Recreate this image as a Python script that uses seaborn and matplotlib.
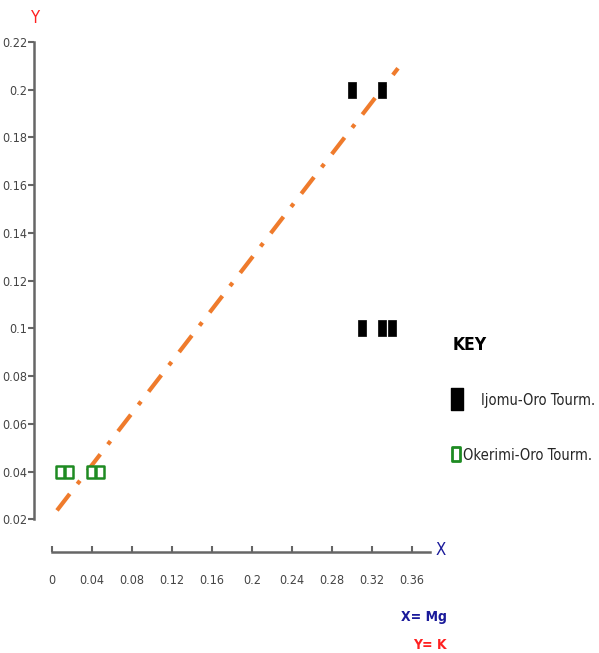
import matplotlib
matplotlib.use("Agg")
import matplotlib.pyplot as plt
import seaborn as sns
import pandas as pd
from matplotlib.lines import Line2D
from matplotlib.path import Path

sns.set_theme(style="white")
plt.rcParams['font.family'] = ['DejaVu Sans']
plt.rcParams['font.stretch'] = 'condensed'

# Data
ijomu_mg = [0.30, 0.33, 0.31, 0.33, 0.34]
ijomu_k = [0.20, 0.20, 0.10, 0.10, 0.10]
okerimi_mg = [0.008, 0.017, 0.039, 0.048]
okerimi_k = [0.04, 0.04, 0.04, 0.04]
trend_mg = [0.005, 0.346]
trend_k = [0.0238, 0.209]
xticks = [0, 0.04, 0.08, 0.12, 0.16, 0.2, 0.24, 0.28, 0.32, 0.36]
xtick_labels = ['0', '0.04', '0.08', '0.12', '0.16', '0.2', '0.24', '0.28', '0.32', '0.36']
yticks = [0.02, 0.04, 0.06, 0.08, 0.1, 0.12, 0.14, 0.16, 0.18, 0.2, 0.22]
ytick_labels = ['0.02', '0.04', '0.06', '0.08', '0.1', '0.12', '0.14', '0.16', '0.18', '0.2', '0.22']
series_labels = ['Ijomu-Oro Tourm.', 'Okerimi-Oro Tourm.']

W, H = 599, 653
fig = plt.figure(figsize=(W / 100, H / 100), dpi=100)
ax_l, ax_r, ax_t, ax_b = 34, 430, 42, 552
ax = fig.add_axes([ax_l / W, 1 - ax_b / H, (ax_r - ax_l) / W, (ax_b - ax_t) / H])
ax.set_xlim(-0.018, 0.378)
ax.set_ylim(0.02 - (552 - 519.5) * 0.2 / 477, 0.22)


def box(a):
    return Path([(-a, -1), (a, -1), (a, 1), (-a, 1), (-a, -1)],
                [Path.MOVETO, Path.LINETO, Path.LINETO, Path.LINETO, Path.CLOSEPOLY])


rect = box(0.52)
sq = box(0.68)

trend = pd.DataFrame({'Mg': trend_mg, 'K': trend_k})
sns.lineplot(data=trend, x='Mg', y='K', ax=ax, color='#EF7B2C', lw=3.0,
             linestyle=(0, (5, 3, 1, 3)), zorder=2)

ij = pd.DataFrame({'Mg': ijomu_mg, 'K': ijomu_k})
ok = pd.DataFrame({'Mg': okerimi_mg, 'K': okerimi_k})
sns.scatterplot(data=ij, x='Mg', y='K', ax=ax, marker=rect, s=130, color='black',
                edgecolor='black', linewidth=0.5, zorder=3)
sns.scatterplot(data=ok, x='Mg', y='K', ax=ax, marker=sq, s=80, facecolor='white',
                edgecolor='#1E8B22', linewidth=1.8, zorder=3)

for s in ['top', 'right']:
    ax.spines[s].set_visible(False)
for s in ['left', 'bottom']:
    ax.spines[s].set_color('#666666')
    ax.spines[s].set_linewidth(1.8)
ax.spines['left'].set_bounds(0.02, 0.22)
ax.spines['bottom'].set_bounds(0, 0.378)

ax.set_xticks(xticks)
ax.set_xticklabels(xtick_labels)
ax.set_yticks(yticks)
ax.set_yticklabels(ytick_labels)
ax.tick_params(axis='y', direction='out', length=4, width=1.5, color='#666666',
               labelsize=9, labelcolor='#444444', pad=1, left=True)
ax.tick_params(axis='x', direction='in', length=4, width=1.5, color='#666666',
               labelsize=9, labelcolor='#444444', pad=16, bottom=True)
ax.set_xlabel('')
ax.set_ylabel('')
ax.grid(False)

fig.text(36 / W, 1 - 18 / H, 'Y', color='#FF2020', fontsize=12, ha='center', va='center')
fig.text(441 / W, 1 - 550 / H, 'X', color='#1A1A9A', fontsize=12, ha='center', va='center')
fig.text(447 / W, 1 - 617 / H, 'X= Mg', color='#1A1A9A', fontsize=10, fontweight='bold',
         ha='right', va='center')
fig.text(447 / W, 1 - 645 / H, 'Y= K', color='#FF2020', fontsize=10, fontweight='bold',
         ha='right', va='center')

fig.text(453 / W, 1 - 345 / H, 'KEY', fontsize=12.5, fontweight='bold', color='black',
         ha='left', va='center')

h1 = Line2D([], [], marker=box(0.57), ms=15.5, color='black', lw=0, label=series_labels[0])
h2 = Line2D([], [], marker=box(0.6), ms=10.5, markerfacecolor='white', markeredgecolor='#1E8B22',
            markeredgewidth=2.0, lw=0, label=series_labels[1])
fs = 10.5
fpx = fs * 100 / 72
leg1 = fig.legend(handles=[h1], loc='center left', bbox_to_anchor=(451 / W, 1 - 400 / H),
                  frameon=False, fontsize=fs, handlelength=12 / fpx, handletextpad=18 / fpx,
                  borderpad=0, borderaxespad=0)
leg2 = fig.legend(handles=[h2], loc='center left', bbox_to_anchor=(451 / W, 1 - 455 / H),
                  frameon=False, fontsize=fs, handlelength=10 / fpx, handletextpad=2 / fpx,
                  borderpad=0, borderaxespad=0)

fig.savefig('out.png', dpi=100)
